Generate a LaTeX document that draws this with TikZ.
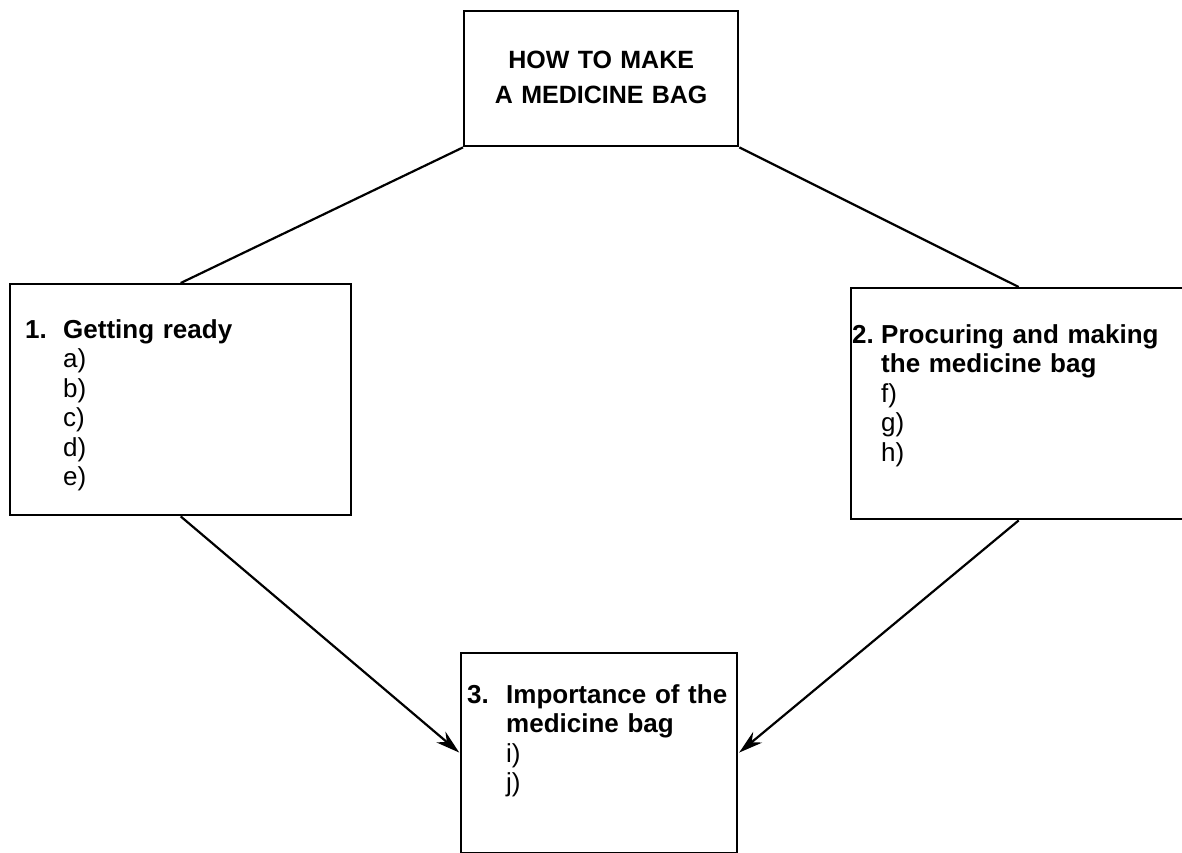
\documentclass[tikz,border=0pt]{standalone}
\usepackage{fontspec}
\setmainfont{Liberation Sans}
\usetikzlibrary{arrows.meta}
\begin{document}
\begin{tikzpicture}[x=1pt,y=-1pt,
  box/.style={draw, line width=2.4pt, anchor=north west, inner ysep=0pt, align=left,
    font=\fontsize{26}{29.5}\selectfont},
  link/.style={line width=2.2pt},
  arr/.style={line width=2.2pt, -{Stealth[length=24pt,width=14pt]}, shorten >=1pt}]
\useasboundingbox (0,0) rectangle (1182,853);
\node[box, align=center, inner xsep=0pt, text width=274pt, text height=57pt, text depth=78pt,
  font=\fontsize{25}{35}\selectfont\bfseries] (T) at (463,10) {HOW TO MAKE\\A MEDICINE BAG};
\node[box, inner xsep=15pt, text width=311pt, text height=54pt, text depth=177pt] (L) at (9,283)
  {\begin{tabular}[t]{@{}p{38pt}@{}l@{}}\textbf{1.} & \textbf{Getting ready}\\ & a)\\ & b)\\ & c)\\ & d)\\ & e)\end{tabular}};
\node[box, inner xsep=1pt, text width=333pt, text height=55pt, text depth=176pt] (R) at (850,287)
  {\begin{tabular}[t]{@{}p{29pt}@{}l@{}}\textbf{2.} & \textbf{Procuring and making}\\ & \textbf{the medicine bag}\\ & f)\\ & g)\\ & h)\end{tabular}};
\node[box, inner xsep=6pt, text width=264pt, text height=50pt, text depth=150pt] (B) at (460,652)
  {\begin{tabular}[t]{@{}p{39pt}@{}l@{}}\textbf{3.} & \textbf{Importance of the}\\ & \textbf{medicine bag}\\ & i)\\ & j)\end{tabular}};
\draw[link] (T.south west) -- (L.north);
\draw[link] (T.south east) -- (R.north);
\draw[arr] (L.south) -- (B.west);
\draw[arr] (R.south) -- (B.east);
\end{tikzpicture}
\end{document}
